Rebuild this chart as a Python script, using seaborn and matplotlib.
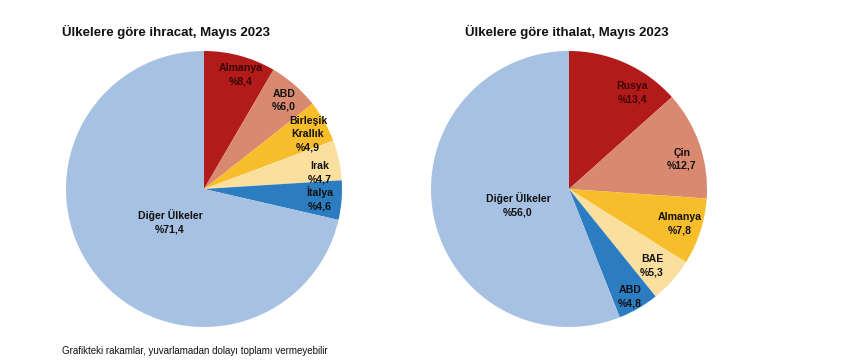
import numpy as np
import matplotlib
matplotlib.use("Agg")
import matplotlib.pyplot as plt
import seaborn as sns

sns.set_theme(style="white")
plt.rcParams['font.family'] = ['Liberation Sans', 'DejaVu Sans']

# Data
exp_labels = ["Almanya", "ABD", "Birleşik\nKrallık", "Irak", "İtalya", "Diğer Ülkeler"]
exp_values = [8.4, 6.0, 4.9, 4.7, 4.6, 71.4]
imp_labels = ["Rusya", "Çin", "Almanya", "BAE", "ABD", "Diğer Ülkeler"]
imp_values = [13.4, 12.7, 7.8, 5.3, 4.8, 56.0]
titles = ["Ülkelere göre ihracat, Mayıs 2023", "Ülkelere göre ithalat, Mayıs 2023"]
footnote = "Grafikteki rakamlar, yuvarlamadan dolayı toplamı vermeyebilir"

colors = sns.color_palette(["#B31B1B", "#D9896F", "#F8BD2A", "#FADF9F", "#2B7CC1", "#A6C1E2"])
text_colors = ["#3a0505", "#111111", "#111111", "#111111", "#111111", "#111111"]

fig = plt.figure(figsize=(8.47, 3.64), dpi=100)
fig.patch.set_facecolor("white")

W, H = 847, 364
R = 138

def draw(center_x, center_y, labels, values, radii, offsets):
    ax = fig.add_axes([(center_x - R) / W, (H - center_y - R) / H, 2 * R / W, 2 * R / H])
    wedges, _ = ax.pie(values, colors=colors, startangle=90, counterclock=False,
                       radius=1.0, wedgeprops=dict(linewidth=0))
    for w, lab, val, rd, off, tc in zip(wedges, labels, values, radii, offsets, text_colors):
        mid = np.deg2rad((w.theta1 + w.theta2) / 2 + off)
        ax.text(rd * np.cos(mid), rd * np.sin(mid),
                f"{lab}\n%{val:.1f}".replace(".", ","),
                ha="center", va="center", fontsize=7.6, fontweight="bold",
                color=tc, linespacing=1.4)
    ax.set_xlim(-1, 1)
    ax.set_ylim(-1, 1)
    ax.set_aspect("equal")
    ax.axis("off")
    return ax

draw(204, 189, exp_labels, exp_values,
     [0.868, 0.867, 0.853, 0.848, 0.843, 0.343],
     [-2.9, -1.0, -1.4, -4.2, 0.0, 5.7])
draw(569, 189, imp_labels, imp_values,
     [0.833, 0.847, 0.843, 0.82, 0.899, 0.388],
     [-9.2, -4.1, 0.5, -1.3, -0.8, 6.6])

fig.text(62 / W, 1 - 32 / H, titles[0], ha="left", va="center", fontsize=9.5, fontweight="bold", color="#111111")
fig.text(465 / W, 1 - 32 / H, titles[1], ha="left", va="center", fontsize=9.5, fontweight="bold", color="#111111")
fig.text(62 / W, 1 - 351 / H, footnote, ha="left", va="center", fontsize=7, color="#111111")

fig.savefig("out.png", dpi=100, facecolor="white")
